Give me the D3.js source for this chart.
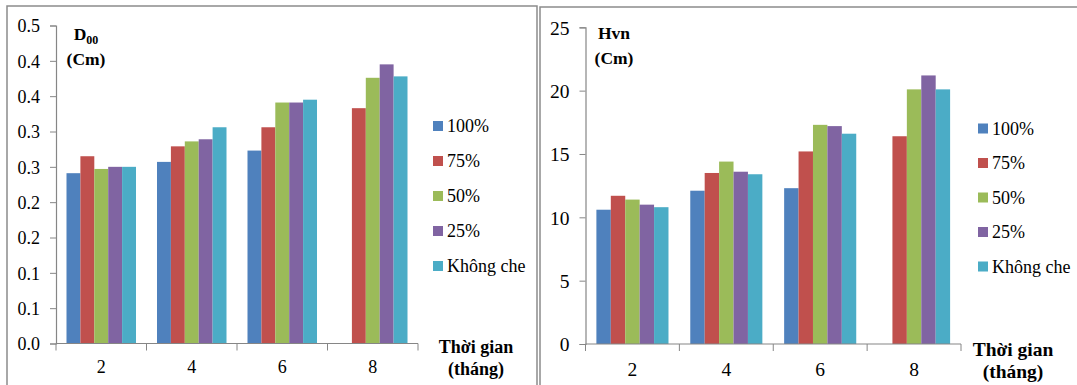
<!DOCTYPE html>
<html>
<head>
<meta charset="utf-8">
<script src="https://cdn.jsdelivr.net/npm/d3@7"></script>
<style>
  html, body { margin: 0; padding: 0; background: #fff; }
  svg { display: block; }
  svg text { font-family: "Liberation Serif", "Tinos", "DejaVu Serif", serif; }
</style>
</head>
<body>
<svg id="chart" width="1077" height="385"></svg>
<script>
// ---------- data ----------
const categories = ["2", "4", "6", "8"];
const seriesNames = ["100%", "75%", "50%", "25%", "Không che"];
const seriesColors = ["#4F81BD", "#C0504D", "#9BBB59", "#8064A2", "#4BACC6"];

// D00 (cm) per series, per month
const d00_100 = [0.241, 0.257, 0.273, null];
const d00_75  = [0.265, 0.279, 0.306, 0.333];
const d00_50  = [0.247, 0.286, 0.341, 0.376];
const d00_25  = [0.250, 0.289, 0.341, 0.395];
const d00_0   = [0.250, 0.306, 0.345, 0.378];

// Hvn (cm) per series, per month
const hvn_100 = [10.6, 12.1, 12.3, null];
const hvn_75  = [11.7, 13.5, 15.2, 16.4];
const hvn_50  = [11.4, 14.4, 17.3, 20.1];
const hvn_25  = [11.0, 13.6, 17.2, 21.2];
const hvn_0   = [10.8, 13.4, 16.6, 20.1];

const leftTickValues = [0, 0.05, 0.10, 0.15, 0.20, 0.25, 0.30, 0.35, 0.40, 0.45];
const leftTickLabels = ["0.0", "0.1", "0.1", "0.2", "0.2", "0.3", "0.3", "0.4", "0.4", "0.5"];
const rightTickValues = [0, 5, 10, 15, 20, 25];
const rightTickLabels = ["0", "5", "10", "15", "20", "25"];

// ---------- drawing ----------
const svg = d3.select("#chart");

function drawPanel(cfg) {
  const g = svg.append("g");
  // frame
  g.append("path")
    .attr("d", cfg.framePath)
    .attr("fill", "none")
    .attr("stroke", "#8c8c8c")
    .attr("stroke-width", 1.5);

  const x0 = d3.scaleBand().domain(categories).range([cfg.ax0, cfg.ax1]).padding(0);
  const bw = x0.bandwidth();
  const gapFrac = 0.116;
  const x1 = d3.scaleBand().domain(d3.range(seriesNames.length))
    .range([bw * gapFrac, bw * (1 - gapFrac)]).padding(0);
  const y = d3.scaleLinear().domain(cfg.yDomain).range([cfg.ay0, cfg.ay1]);

  // bars
  cfg.series.forEach((vals, si) => {
    g.append("g").selectAll("rect")
      .data(vals.map((v, ci) => ({ v, c: categories[ci] })).filter(d => d.v !== null))
      .join("rect")
      .attr("x", d => x0(d.c) + x1(si))
      .attr("width", x1.bandwidth())
      .attr("y", d => y(d.v))
      .attr("height", d => y(0) - y(d.v))
      .attr("fill", seriesColors[si]);
  });

  // y axis
  const yAxis = d3.axisLeft(y)
    .tickValues(cfg.tickValues)
    .tickFormat((d, i) => cfg.tickLabels[i])
    .tickSize(6).tickPadding(10);
  const ya = g.append("g").attr("transform", `translate(${cfg.ax0},0)`).call(yAxis);
  ya.attr("font-family", null).attr("font-size", null);
  ya.select(".domain").attr("stroke", "#868686").attr("stroke-width", 1.2);
  ya.selectAll(".tick line").attr("stroke", "#868686");
  ya.selectAll("text").style("font-size", cfg.fs + "px")
    .attr("fill", "#000").attr("dy", "0.35em");

  // x axis (ticks at category boundaries)
  const xa = g.append("g").attr("transform", `translate(0,${cfg.ay0})`);
  xa.append("line").attr("x1", cfg.ax0).attr("x2", cfg.ax1)
    .attr("stroke", "#868686").attr("stroke-width", 1.2);
  const bounds = categories.map(c => x0(c)).concat([cfg.ax1]);
  xa.selectAll("line.tk").data(bounds).join("line").attr("class", "tk")
    .attr("x1", d => d).attr("x2", d => d).attr("y1", 0).attr("y2", 7)
    .attr("stroke", "#868686");
  xa.selectAll("text").data(categories).join("text")
    .attr("x", d => x0(d) + bw / 2).attr("y", cfg.xLabelY - cfg.ay0)
    .attr("text-anchor", "middle")
    .style("font-size", cfg.fs + "px")
    .text(d => d);

  // y title
  const t1 = g.append("text").attr("x", cfg.yTitleX).attr("y", cfg.yTitleY)
    .style("font-weight", "bold").style("font-size", "17.5px")
    .attr("text-anchor", "middle");
  t1.append("tspan").text(cfg.yTitle1);
  if (cfg.yTitleSub) {
    t1.append("tspan").style("font-size", "12px").attr("dy", 4).text(cfg.yTitleSub);
  }
  g.append("text").attr("x", cfg.yTitleX).attr("y", cfg.yTitleY + 25)
    .style("font-weight", "bold").style("font-size", "17.5px")
    .attr("text-anchor", "middle").text("(Cm)");

  // x title
  g.append("text").attr("x", cfg.xTitleX).attr("y", cfg.xTitleY)
    .style("font-weight", "bold").style("font-size", cfg.xTitleFs + "px")
    .attr("text-anchor", "middle").text("Thời gian");
  g.append("text").attr("x", cfg.xTitleX).attr("y", cfg.xTitleY + 22)
    .style("font-weight", "bold").style("font-size", cfg.xTitleFs + "px")
    .attr("text-anchor", "middle").text("(tháng)");

  // legend
  const lg = g.append("g");
  seriesNames.forEach((name, i) => {
    const cy = cfg.legY + i * cfg.legStep;
    lg.append("rect").attr("x", cfg.legX).attr("y", cy - 5).attr("width", 10).attr("height", 10)
      .attr("fill", seriesColors[i]);
    lg.append("text").attr("x", cfg.legX + 14).attr("y", cy + 6)
      .style("font-size", "18px").text(name);
  });
}

drawPanel({
  framePath: "M7,385 L7,6 L537,6 L537,385",
  ax0: 56, ax1: 418, ay0: 343.5, ay1: 25.5,
  yDomain: [0, 0.45],
  tickValues: leftTickValues, tickLabels: leftTickLabels,
  series: [d00_100, d00_75, d00_50, d00_25, d00_0],
  fs: 18, xLabelY: 373,
  yTitle1: "D", yTitleSub: "00", yTitleX: 86, yTitleY: 40,
  xTitleX: 476, xTitleY: 353, xTitleFs: 18,
  legX: 433, legY: 126, legStep: 35
});

drawPanel({
  framePath: "M540,385 L540,7 L1077,7",
  ax0: 585.5, ax1: 961, ay0: 344, ay1: 27.3,
  yDomain: [0, 25],
  tickValues: rightTickValues, tickLabels: rightTickLabels,
  series: [hvn_100, hvn_75, hvn_50, hvn_25, hvn_0],
  fs: 19.5, xLabelY: 376,
  yTitle1: "Hvn", yTitleSub: null, yTitleX: 614, yTitleY: 39,
  xTitleX: 1013, xTitleY: 356, xTitleFs: 19.5,
  legX: 978, legY: 128.5, legStep: 34.5
});
</script>
</body>
</html>
